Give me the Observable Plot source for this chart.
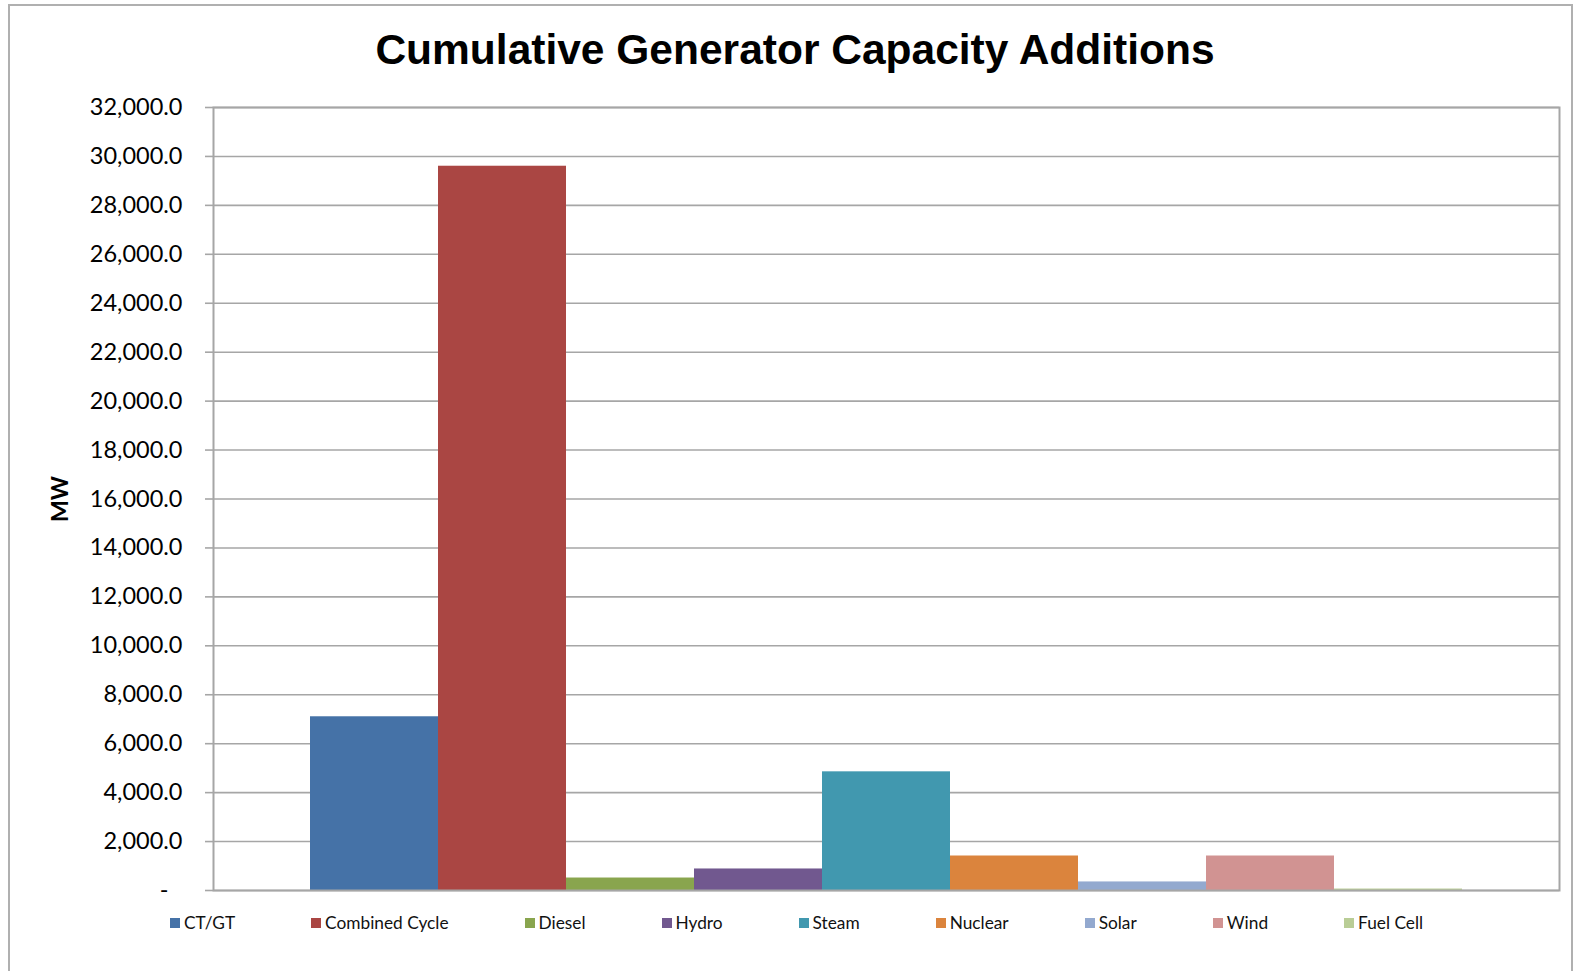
<!DOCTYPE html>
<html>
<head>
<meta charset="utf-8">
<script src="https://cdn.jsdelivr.net/npm/d3@7"></script>
<script src="https://cdn.jsdelivr.net/npm/@observablehq/plot@0.6"></script>
<style>
  html, body { margin: 0; padding: 0; background: #fff; }
  #wrap { position: relative; width: 1574px; height: 971px; overflow: hidden; font-family: Lato, "Open Sans", sans-serif; }
  #border { position: absolute; left: 8px; top: 4px; width: 1561px; height: 1000px; border: 2px solid #b0b0b0; }
  #title { position: absolute; left: 0; width: 1590px; top: 26px; text-align: center; font-family: "Liberation Sans", Arial, sans-serif; font-weight: bold; font-size: 42.5px; color: #000; }
  #chart { position: absolute; left: 0; top: 0; }
  #chart svg text { font-family: Lato, "Open Sans", sans-serif; }
  #chart g[aria-label="y-axis tick label"] text { font-size: 23.5px; fill: #000; }
  #chart g[aria-label="y-axis label"] text { font-size: 23px; font-weight: bold; fill: #000; }
  #legend { position: absolute; left: 170px; top: 912px; display: flex; gap: 76px; font-size: 17.3px; color: #111; }
  .item { display: flex; align-items: center; }
  .sw { width: 10px; height: 10px; margin-right: 4px; }
</style>
</head>
<body>
<div id="wrap">
  <div id="border"></div>
  <div id="title">Cumulative Generator Capacity Additions</div>
  <div id="chart"></div>
  <div id="legend"></div>
</div>
<script>
const types = ["CT/GT", "Combined Cycle", "Diesel", "Hydro", "Steam", "Nuclear", "Solar", "Wind", "Fuel Cell"];
const capacityMW = [7100, 29600, 510, 880, 4850, 1410, 350, 1410, 60];
const colors = ["#4572a7", "#aa4643", "#89a54e", "#71588f", "#4198af", "#db843d", "#93a9cf", "#d19392", "#b9cd96"];
const yTicks = d3.range(0, 32001, 2000);

const data = types.map((t, i) => ({type: t, mw: capacityMW[i]}));
const fmt = d3.format(",.1f");

const chart = Plot.plot({
  width: 1574,
  height: 930,
  marginLeft: 213,
  marginRight: 15,
  marginTop: 107,
  marginBottom: 40,
  x: {type: "band", domain: types, padding: 0, insetLeft: 96, insetRight: 96, axis: null},
  y: {domain: [0, 32000], ticks: yTicks},
  color: {domain: types, range: colors},
  marks: [
    Plot.gridY(yTicks, {stroke: "#a6a6a6", strokeOpacity: 1, strokeWidth: 1.6}),
    Plot.barY(data, {x: "type", y: "mw", fill: "type"}),
    Plot.frame({stroke: "#a6a6a6", strokeWidth: 2}),
    Plot.axisY(yTicks, {
      tickSize: 8,
      tickPadding: 23,
      stroke: "#a6a6a6",
      strokeWidth: 1.6,
      tickFormat: d => d === 0 ? "" : fmt(d),
      label: "MW",
      labelAnchor: "center",
      labelArrow: "none",
      labelOffset: 162
    }),
    Plot.text([0], {y: d => d, text: () => "-", frameAnchor: "left", textAnchor: "end", dx: -45, fontSize: 23.5, fill: "#000"})
  ]
});
document.getElementById("chart").appendChild(chart);

const legend = document.getElementById("legend");
types.forEach((t, i) => {
  const item = document.createElement("div");
  item.className = "item";
  const sw = document.createElement("span");
  sw.className = "sw";
  sw.style.background = colors[i];
  const lab = document.createElement("span");
  lab.textContent = t;
  item.appendChild(sw);
  item.appendChild(lab);
  legend.appendChild(item);
});
</script>
</body>
</html>
